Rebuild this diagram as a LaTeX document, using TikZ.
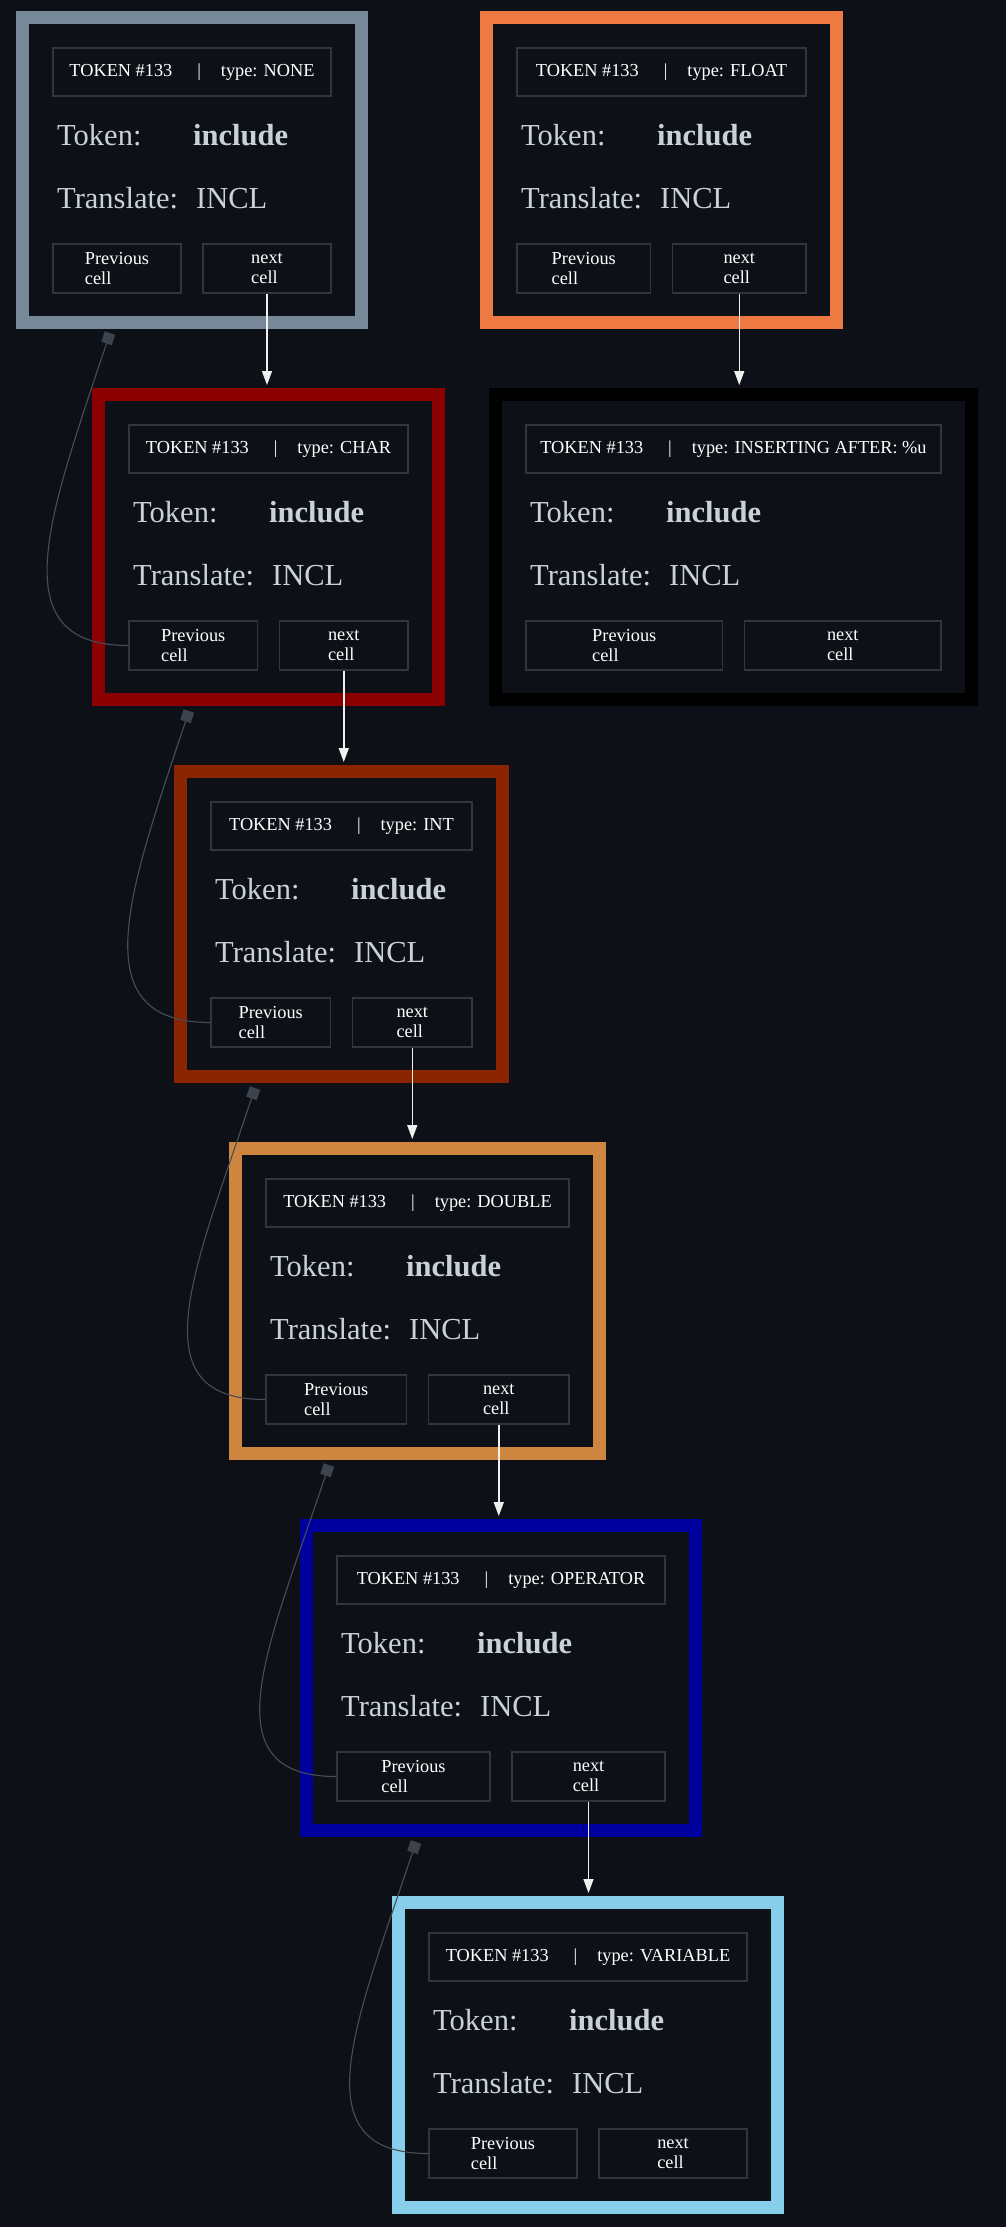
\documentclass[tikz,border=0pt]{standalone}
\usepackage{fontspec}
\setmainfont{Liberation Serif}
\usetikzlibrary{arrows.meta,calc}
\definecolor{bg}{HTML}{0D1117}
\definecolor{cellline}{HTML}{30363D}
\definecolor{bigtext}{HTML}{C9D1D9}
\definecolor{arrowc}{HTML}{F0F0F0}
\definecolor{linkc}{HTML}{484E58}
\definecolor{markc}{HTML}{3D434D}
\definecolor{cNone}{HTML}{778899}
\definecolor{cFloat}{HTML}{EE7942}
\definecolor{cIns}{HTML}{000000}
\definecolor{cChar}{HTML}{8B0000}
\definecolor{cInt}{HTML}{8B2500}
\definecolor{cDouble}{HTML}{CD853F}
\definecolor{cOper}{HTML}{00009E}
\definecolor{cVar}{HTML}{87CEEB}
\newcommand{\tksmallfont}{\fontsize{18.3}{20.5}\selectfont}
\newcommand{\tkbigfont}{\fontsize{30.5}{34}\selectfont}
\tikzset{
  frame/.style={rectangle, line width=13pt, fill=bg, inner sep=0pt},
  hdr/.style={rectangle, draw=cellline, line width=1.3pt, minimum height=48, inner sep=0pt, text=white, font=\tksmallfont},
  big/.style={inner sep=0pt, text=bigtext, font=\tkbigfont},
  cellbox/.style={rectangle, draw=cellline, line width=1.3pt, minimum height=49, inner sep=0pt, text=white, font=\tksmallfont, align=left},
  nextarrow/.style={draw=arrowc, line width=1.5pt, -{Triangle[length=14pt,width=10pt]}, shorten >=3pt},
  backlink/.style={draw=linkc, line width=1.1pt, -{Square[length=11pt,width=11pt,color=markc]}},
}
\newcommand{\tokbox}[6]{%
  \pgfmathsetmacro{\tbL}{#2}%
  \pgfmathsetmacro{\tbT}{#3}%
  \pgfmathsetmacro{\tbW}{#4}%
  \pgfmathsetmacro{\tbCW}{(\tbW-96)/2}%
  \node[frame, draw=#5, minimum width={\tbW-13}, minimum height=305] (#1) at ({\tbL+\tbW/2},{\tbT+159}) {};
  \node[hdr, minimum width={\tbW-74}] (#1h) at ({\tbL+\tbW/2},{\tbT+61}) {TOKEN \#133\hspace{25pt}|\hspace{20pt}type: #6};
  \node[big, anchor=base west] (#1tk) at ({\tbL+41},{\tbT+134}) {Token:};
  \node[big, font=\tkbigfont\bfseries, anchor=base west] (#1inc) at ({\tbL+177},{\tbT+134}) {include};
  \node[big, anchor=base west] (#1tr) at ({\tbL+41},{\tbT+197}) {Translate:};
  \node[big, anchor=base west] (#1incl) at ({\tbL+180},{\tbT+197}) {INCL};
  \node[cellbox, minimum width={\tbCW}] (#1p) at ({\tbL+37+\tbCW/2},{\tbT+257.5}) {Previous\\cell};
  \node[cellbox, minimum width={\tbCW}] (#1n) at ({\tbL+\tbW-37-\tbCW/2},{\tbT+257.5}) {next\\cell};
}
\begin{document}
\begin{tikzpicture}[x=1pt,y=-1pt]
  \fill[bg] (0,0) rectangle (1006,2227);
  \useasboundingbox (0,0) rectangle (1006,2227);

  \tokbox{n1}{16}{11}{352}{cNone}{NONE}
  \tokbox{n2}{480}{11}{363}{cFloat}{FLOAT}
  \tokbox{n3}{489}{388}{489}{cIns}{INSERTING AFTER: \%u}
  \tokbox{n4}{92}{388}{353}{cChar}{CHAR}
  \tokbox{n5}{174}{765}{335}{cInt}{INT}
  \tokbox{n6}{229}{1142}{377}{cDouble}{DOUBLE}
  \tokbox{n7}{300}{1519}{402}{cOper}{OPERATOR}
  \tokbox{n8}{392}{1896}{392}{cVar}{VARIABLE}

  % forward links (next cell)
  \draw[nextarrow] (n1n.south) -- (n1n.south |- n4.north);
  \draw[nextarrow] (n2n.south) -- (n2n.south |- n3.north);
  \draw[nextarrow] (n4n.south) -- (n4n.south |- n5.north);
  \draw[nextarrow] (n5n.south) -- (n5n.south |- n6.north);
  \draw[nextarrow] (n6n.south) -- (n6n.south |- n7.north);
  \draw[nextarrow] (n7n.south) -- (n7n.south |- n8.north);

  % back links (previous cell)
  \coordinate (m1) at (110,333);
  \coordinate (m4) at (189,711);
  \coordinate (m5) at (255,1088);
  \coordinate (m6) at (329,1465);
  \coordinate (m7) at (416,1842);
  \draw[backlink] (n4p.west) .. controls ($(n4p.west)+(-130,0)$) and ($(m1)+(-60,180)$) .. (m1);
  \draw[backlink] (n5p.west) .. controls ($(n5p.west)+(-130,0)$) and ($(m4)+(-60,180)$) .. (m4);
  \draw[backlink] (n6p.west) .. controls ($(n6p.west)+(-130,0)$) and ($(m5)+(-60,180)$) .. (m5);
  \draw[backlink] (n7p.west) .. controls ($(n7p.west)+(-130,0)$) and ($(m6)+(-60,180)$) .. (m6);
  \draw[backlink] (n8p.west) .. controls ($(n8p.west)+(-130,0)$) and ($(m7)+(-60,180)$) .. (m7);
\end{tikzpicture}
\end{document}
